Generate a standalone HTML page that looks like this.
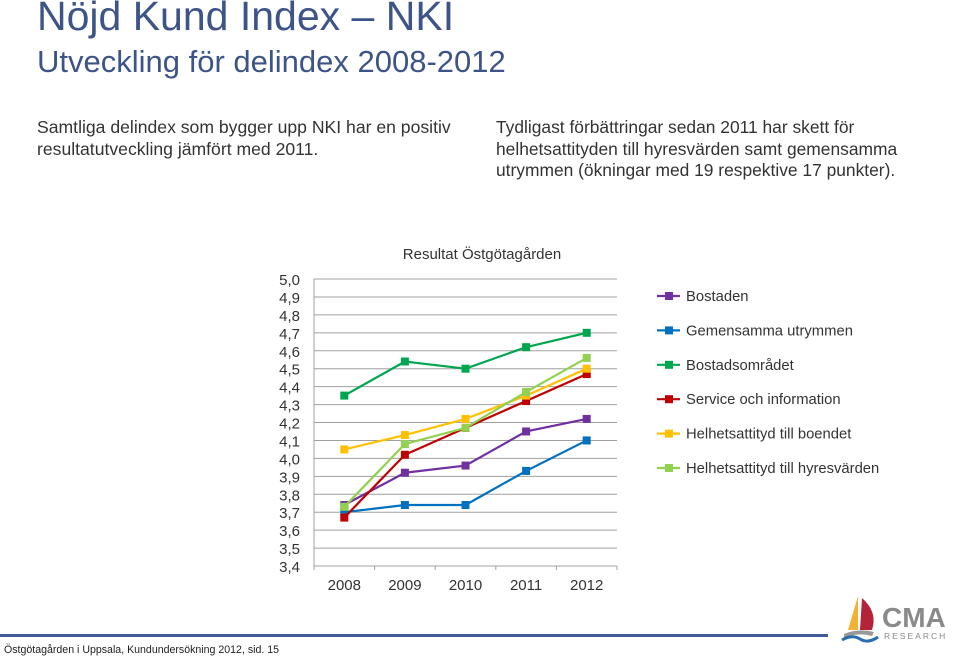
<!DOCTYPE html>
<html><head><meta charset="utf-8">
<style>
body{margin:0;width:960px;height:657px;background:#fff;position:relative;overflow:hidden;font-family:"Liberation Sans",sans-serif;}
.abs{position:absolute;}
#title{left:37px;top:-7px;font-size:41px;color:#3d5488;white-space:nowrap;}
#subtitle{left:37px;top:44px;font-size:31px;color:#3d5488;white-space:nowrap;}
.para{font-size:17.6px;color:#333;line-height:21.5px;}
</style></head><body>
<div id="title" class="abs">Nöjd Kund Index – NKI</div>
<div id="subtitle" class="abs">Utveckling för delindex 2008-2012</div>
<div class="abs para" style="left:37px;top:117px;width:440px">Samtliga delindex som bygger upp NKI har en positiv resultatutveckling jämfört med 2011.</div>
<div class="abs para" style="left:496px;top:117px;width:420px;font-size:17.4px">Tydligast förbättringar sedan 2011 har skett för helhetsattityden till hyresvärden samt gemensamma utrymmen (ökningar med 19 respektive 17 punkter).</div>
<svg class="abs" style="left:0;top:0" width="960" height="657" id="chart"></svg>
<div class="abs" style="left:0;top:634px;width:828px;height:3px;background:#3f5a95"></div>
<div class="abs" style="left:4px;top:644px;font-size:10.6px;color:#222">Östgötagården i Uppsala, Kundundersökning 2012, sid. 15</div>
<svg class="abs" style="left:838px;top:590px" width="122" height="55">
<path d="M20 6 L10 40 L20 40 Z" fill="#f2b233"/>
<path d="M24 8 Q40 22 34 40 L22 40 Z" fill="#b5233a"/>
<path d="M6 44 Q20 38 36 42 L34 46 Q20 42 6 48Z" fill="#999"/>
<path d="M4 50 Q14 44 22 49 Q30 54 40 47" stroke="#2a6cb0" stroke-width="3" fill="none"/>
<text x="44" y="37" font-size="28" font-weight="bold" fill="#8a8a8a" font-family="Liberation Sans,sans-serif">CMA</text>
<text x="46" y="49" font-size="8.5" fill="#8a8a8a" letter-spacing="2" font-family="Liberation Sans,sans-serif">RESEARCH</text>
</svg>
<script>
const categories=["2008","2009","2010","2011","2012"];
const seriesNames=["Bostaden","Gemensamma utrymmen","Bostadsområdet","Service och information","Helhetsattityd till boendet","Helhetsattityd till hyresvärden"];
const seriesColors=["#7030a0","#0070c0","#00a550","#c00000","#ffc000","#92d050"];
const bostaden=[3.74,3.92,3.96,4.15,4.22];
const gemensamma=[3.70,3.74,3.74,3.93,4.10];
const bostadsomradet=[4.35,4.54,4.50,4.62,4.70];
const service=[3.67,4.02,4.17,4.32,4.47];
const helhetBoendet=[4.05,4.13,4.22,4.35,4.50];
const helhetHyresvarden=[3.73,4.08,4.17,4.37,4.56];
const yTicks=[5.0,4.9,4.8,4.7,4.6,4.5,4.4,4.3,4.2,4.1,4.0,3.9,3.8,3.7,3.6,3.5,3.4];
const seriesData=[bostaden,gemensamma,bostadsomradet,service,helhetBoendet,helhetHyresvarden];
const NS="http://www.w3.org/2000/svg";
const svg=document.getElementById('chart');
const L=314,R=617,T=279,B=566,yMin=3.4,yMax=5.0;
const y=v=>B-(v-yMin)/(yMax-yMin)*(B-T);
const band=(R-L)/categories.length;
const x=i=>L+band*(i+0.5);
function mk(t,a){const e=document.createElementNS(NS,t);for(const k in a)e.setAttribute(k,a[k]);svg.appendChild(e);return e;}
let t=mk('text',{x:482,y:259,'font-size':15,'text-anchor':'middle',fill:'#333','font-family':'Liberation Sans,sans-serif'});
t.textContent="Resultat Östgötagården";


yTicks.forEach(v=>{
 const g=mk('line',{x1:L,x2:R,y1:y(v),y2:y(v),stroke:'#a0a0a0','stroke-width':1});
 
 
 const lb=mk('text',{x:300,y:y(v)+6,'font-size':15,'text-anchor':'end',fill:'#333','font-family':'Liberation Sans,sans-serif'});
 lb.textContent=v.toFixed(1).replace('.',',');
 
 
});
const ax=mk('line',{x1:L,x2:L,y1:T,y2:B,stroke:'#a0a0a0'});


for(let i=0;i<=categories.length;i++){
 const tk=mk('line',{x1:L+band*i,x2:L+band*i,y1:B,y2:B+4,stroke:'#a0a0a0'});
 
 
}
categories.forEach((c,i)=>{
 const lb=mk('text',{x:x(i),y:590,'font-size':15,'text-anchor':'middle',fill:'#333','font-family':'Liberation Sans,sans-serif'});
 lb.textContent=c;
 
 
});
seriesData.forEach((d,s)=>{
 const p=mk('polyline',{points:d.map((v,i)=>x(i)+','+y(v)).join(' '),fill:'none',stroke:seriesColors[s],'stroke-width':2.2});
 
 
 d.forEach((v,i)=>{
  const m=mk('rect',{x:x(i)-4,y:y(v)-4,width:8,height:8,fill:seriesColors[s]});
  
  
 });
 const ly=296+s*34.4;
 const ll=mk('line',{x1:657,x2:680,y1:ly,y2:ly,stroke:seriesColors[s],'stroke-width':2.2});
 
 
 const lm=mk('rect',{x:665,y:ly-4,width:8,height:8,fill:seriesColors[s]});
 
 
 const lt=mk('text',{x:686,y:ly+5,'font-size':14.8,fill:'#333','font-family':'Liberation Sans,sans-serif'});
 lt.textContent=seriesNames[s];
 
 
});
</script>
</body></html>
